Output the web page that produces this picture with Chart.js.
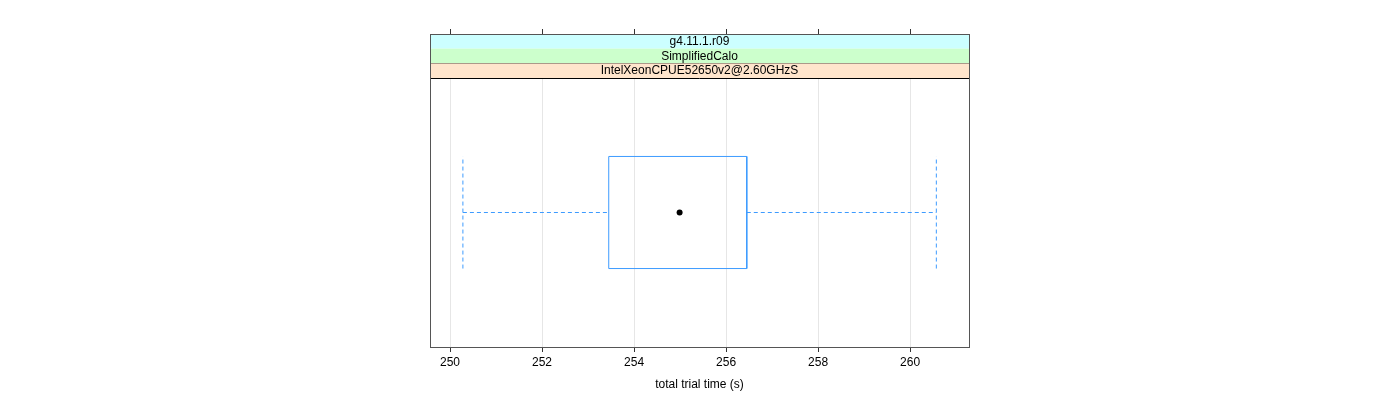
<!DOCTYPE html>
<html><head><meta charset="utf-8">
<script src="https://cdn.jsdelivr.net/npm/chart.js@4"></script>
<style>html,body{margin:0;padding:0;background:#fff}#wrap{width:1400px;height:400px}</style>
</head><body><div id="wrap"><canvas id="c"></canvas></div>
<script>
const stripLabels = ["g4.11.1.r09", "SimplifiedCalo", "IntelXeonCPUE52650v2@2.60GHzS"];
const stripColors = ["#CCFFFF", "#CCFFCC", "#FFE5CC"];
const xTicks = [250, 252, 254, 256, 258, 260];
const stats = { lowWhisker: 250.28, q1: 253.45, median: 254.99, q3: 256.45, highWhisker: 260.57 };
const xRange = [249.565, 261.28];
const axisTitle = "total trial time (s)";

const FONT = '"Liberation Sans", Arial, sans-serif';
const boxCol = '#3d9bff';
const yc = 1, hw = 0.25;

const boxData = [
  {x: stats.q1, y: yc - hw}, {x: stats.q1, y: yc + hw}, {x: stats.q3, y: yc + hw},
  {x: stats.q3, y: yc - hw}, {x: stats.q1, y: yc - hw}
];
const whiskerL = [{x: stats.lowWhisker, y: yc}, {x: stats.q1, y: yc}];
const whiskerR = [{x: stats.q3, y: yc}, {x: stats.highWhisker, y: yc}];
const capL = [{x: stats.lowWhisker, y: yc - hw}, {x: stats.lowWhisker, y: yc + hw}];
const capR = [{x: stats.highWhisker, y: yc - hw}, {x: stats.highWhisker, y: yc + hw}];

const STRIP_H = 44 / 3;
const frame = {
  id: 'frame',
  afterDraw(chart) {
    const {ctx, chartArea: a, scales} = chart;
    const top = a.top - 3 * STRIP_H;
    ctx.save();
    for (let i = 0; i < 3; i++) {
      const y0 = top + i * STRIP_H;
      ctx.fillStyle = stripColors[i];
      ctx.fillRect(a.left, y0, a.right - a.left, STRIP_H);
      ctx.strokeStyle = '#000';
      ctx.lineWidth = 1;
      ctx.beginPath();
      ctx.moveTo(a.left, Math.round(y0 + STRIP_H) + 0.5);
      ctx.lineTo(a.right, Math.round(y0 + STRIP_H) + 0.5);
      ctx.stroke();
      ctx.fillStyle = '#000';
      ctx.font = '12px ' + FONT;
      ctx.textAlign = 'center';
      ctx.textBaseline = 'middle';
      ctx.fillText(stripLabels[i], (a.left + a.right) / 2, y0 + STRIP_H / 2 + 0.5);
    }
    ctx.strokeStyle = '#555';
    ctx.lineWidth = 1;
    ctx.strokeRect(Math.round(a.left) + 0.5, Math.round(top) + 0.5,
                   Math.round(a.right - a.left), Math.round(a.bottom - top));
    // top tick marks
    ctx.strokeStyle = '#333';
    ctx.beginPath();
    xTicks.forEach(v => {
      const px = Math.round(scales.x.getPixelForValue(v)) + 0.5;
      ctx.moveTo(px, Math.round(top));
      ctx.lineTo(px, Math.round(top) - 5);
    });
    ctx.stroke();
    ctx.restore();
  }
};

new Chart(document.getElementById('c'), {
  type: 'scatter',
  data: {
    datasets: [
      {data: whiskerL, showLine: true, borderColor: boxCol, borderWidth: 1, borderDash: [4, 3], pointRadius: 0},
      {data: whiskerR, showLine: true, borderColor: boxCol, borderWidth: 1, borderDash: [4, 3], pointRadius: 0},
      {data: capL, showLine: true, borderColor: boxCol, borderWidth: 1, borderDash: [4, 3], pointRadius: 0},
      {data: capR, showLine: true, borderColor: boxCol, borderWidth: 1, borderDash: [4, 3], pointRadius: 0},
      {data: boxData, showLine: true, borderColor: boxCol, borderWidth: 1, pointRadius: 0},
      {data: [{x: stats.median, y: yc}], pointRadius: 3, pointBackgroundColor: '#000', pointBorderColor: '#000', pointBorderWidth: 0}
    ]
  },
  options: {
    responsive: true, maintainAspectRatio: false, animation: false,
    events: [],
    layout: {padding: {left: 430, right: 431, top: 78, bottom: 8}},
    plugins: {legend: {display: false}, tooltip: {enabled: false}},
    scales: {
      x: {
        type: 'linear', min: xRange[0], max: xRange[1],
        afterBuildTicks(s) { s.ticks = xTicks.map(v => ({value: v})); },
        afterFit(s) { s.height = 45; },
        grid: {color: '#e6e6e6', tickColor: '#333', drawTicks: true, tickLength: 5, lineWidth: 1},
        border: {display: false},
        ticks: {color: '#000', font: {family: FONT, size: 12}, padding: 3, maxRotation: 0, autoSkip: false},
        title: {display: true, text: axisTitle, color: '#000', font: {family: FONT, size: 12}, padding: {top: 4, bottom: 0}}
      },
      y: {type: 'linear', min: 0.4, max: 1.6, display: false}
    }
  },
  plugins: [frame]
});
</script></body></html>
